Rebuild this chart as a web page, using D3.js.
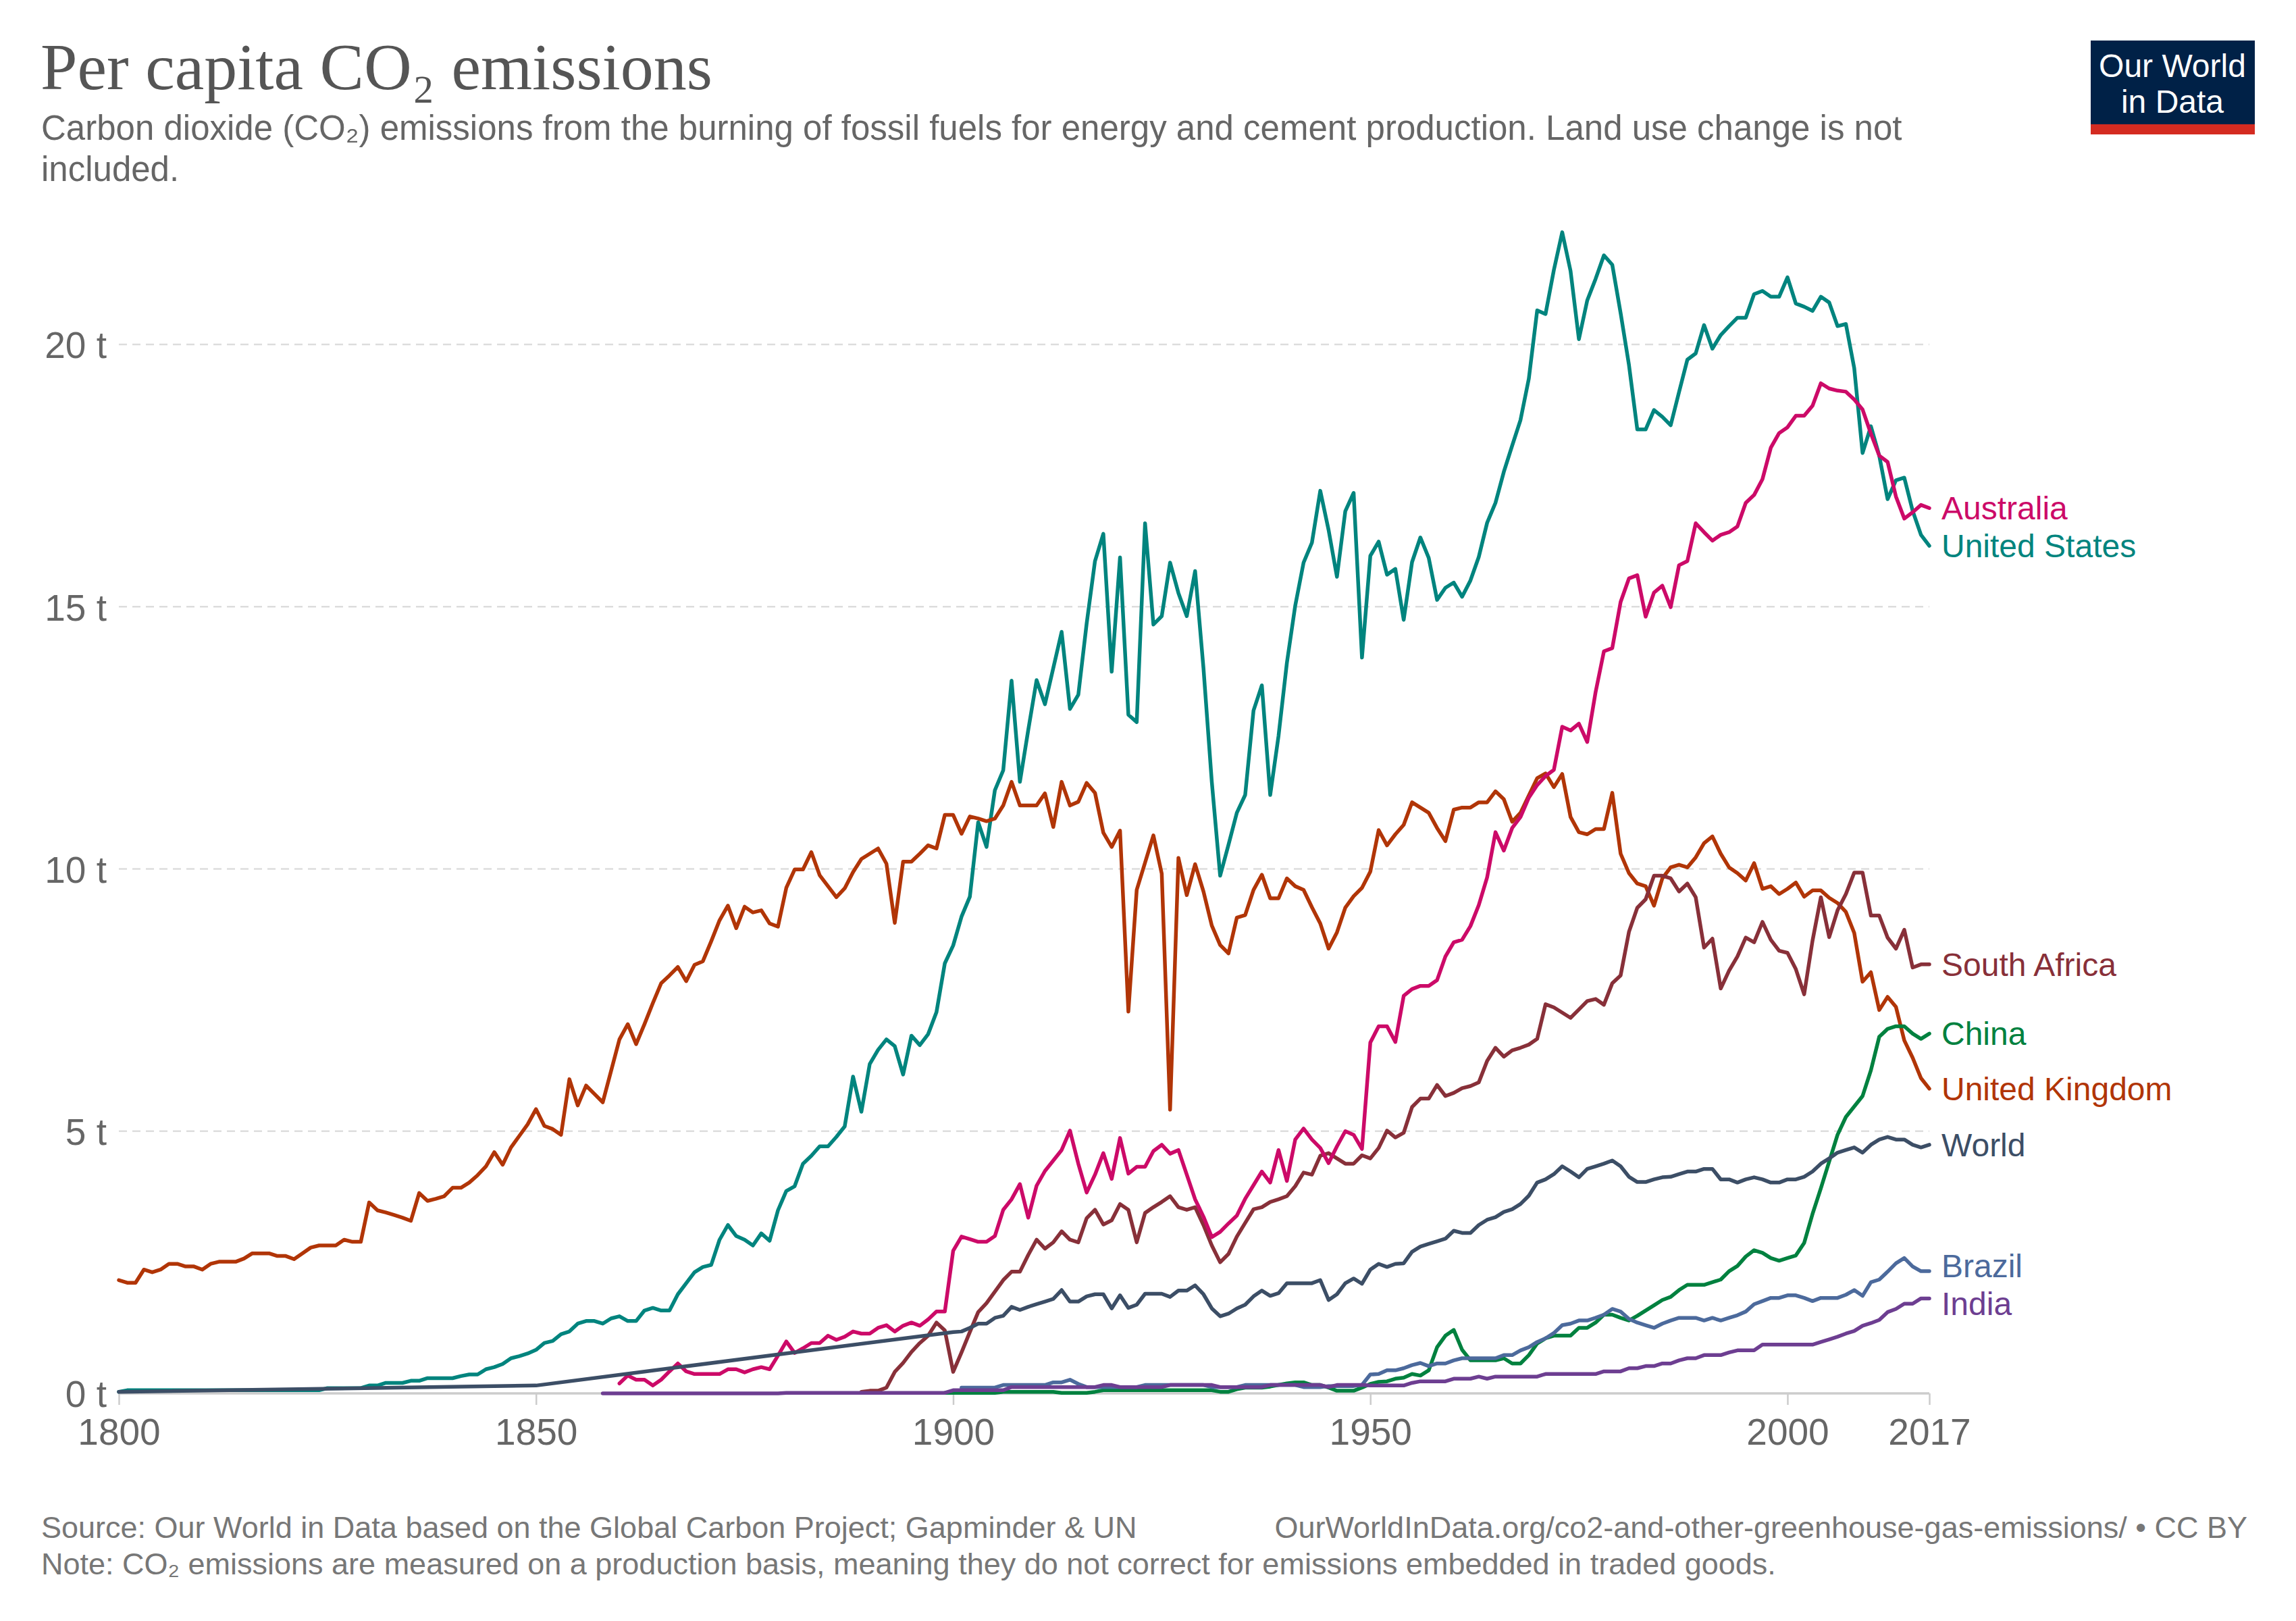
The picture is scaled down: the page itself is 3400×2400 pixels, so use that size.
<!DOCTYPE html>
<html>
<head>
<meta charset="utf-8">
<script src="https://cdn.jsdelivr.net/npm/d3@7/dist/d3.min.js"></script>
<style>
  html, body { margin: 0; padding: 0; background: #fff; }
  svg { display: block; }
</style>
</head>
<body>
<svg id="chart" width="3400" height="2400"></svg>
<script>
// ---------------- DATA ----------------
const xTickYears = [1800, 1850, 1900, 1950, 2000, 2017];
const yTickValues = [0, 5, 10, 15, 20];

const ukStart = 1800;
const ukValues = [
  2.16, 2.11, 2.11, 2.36, 2.31, 2.36, 2.47, 2.47, 2.42, 2.42,
  2.36, 2.47, 2.51, 2.51, 2.51, 2.57, 2.67, 2.67, 2.67, 2.62,
  2.62, 2.56, 2.67, 2.78, 2.82, 2.82, 2.82, 2.93, 2.89, 2.89,
  3.64, 3.49, 3.45, 3.40, 3.35, 3.29, 3.82, 3.67, 3.71, 3.76,
  3.92, 3.92, 4.02, 4.16, 4.33, 4.60, 4.36, 4.69, 4.91, 5.13,
  5.42, 5.10, 5.04, 4.93, 5.99, 5.49, 5.87, 5.71, 5.55, 6.15,
  6.75, 7.04, 6.66, 7.04, 7.44, 7.82, 7.97, 8.13, 7.86, 8.17,
  8.24, 8.62, 9.02, 9.30, 8.87, 9.28, 9.17, 9.21, 8.96, 8.90,
  9.64, 9.99, 9.99, 10.32, 9.88, 9.67, 9.46, 9.63, 9.94, 10.19,
  10.29, 10.39, 10.10, 8.97, 10.14, 10.14, 10.29, 10.45, 10.39, 11.03,
  11.03, 10.67, 11.00, 10.96, 10.91, 10.96, 11.21, 11.66, 11.21, 11.21,
  11.21, 11.44, 10.80, 11.66, 11.21, 11.28, 11.64, 11.45, 10.69, 10.42,
  10.73, 7.28, 9.60, 10.12, 10.64, 9.91, 5.41, 10.21, 9.50, 10.09,
  9.57, 8.92, 8.55, 8.39, 9.07, 9.12, 9.60, 9.89, 9.44, 9.44,
  9.82, 9.67, 9.60, 9.27, 8.96, 8.48, 8.79, 9.26, 9.48, 9.64,
  9.95, 10.74, 10.45, 10.66, 10.84, 11.27, 11.17, 11.07, 10.78, 10.53,
  11.13, 11.17, 11.17, 11.27, 11.27, 11.48, 11.33, 10.90, 11.07, 11.40,
  11.73, 11.82, 11.56, 11.81, 10.99, 10.70, 10.66, 10.76, 10.76, 11.45,
  10.29, 9.92, 9.72, 9.67, 9.30, 9.82, 10.03, 10.08, 10.03, 10.22,
  10.49, 10.62, 10.29, 10.03, 9.92, 9.78, 10.11, 9.62, 9.67, 9.52,
  9.62, 9.74, 9.47, 9.59, 9.59, 9.45, 9.35, 9.18, 8.78, 7.85,
  8.03, 7.31, 7.56, 7.37, 6.73, 6.40, 6.01, 5.81
];

const usStart = 1800;
const usValues = [
  0.03, 0.06, 0.06, 0.06, 0.06, 0.06, 0.06, 0.06, 0.06, 0.06,
  0.06, 0.06, 0.06, 0.06, 0.06, 0.06, 0.06, 0.06, 0.06, 0.06,
  0.06, 0.06, 0.06, 0.06, 0.06, 0.10, 0.10, 0.10, 0.10, 0.10,
  0.15, 0.15, 0.20, 0.20, 0.20, 0.24, 0.24, 0.29, 0.29, 0.29,
  0.29, 0.33, 0.36, 0.36, 0.46, 0.50, 0.56, 0.67, 0.71, 0.76,
  0.83, 0.96, 1.00, 1.13, 1.18, 1.33, 1.38, 1.38, 1.33, 1.43,
  1.47, 1.38, 1.38, 1.58, 1.63, 1.58, 1.58, 1.89, 2.10, 2.31,
  2.41, 2.45, 2.93, 3.21, 3.00, 2.93, 2.82, 3.05, 2.91, 3.49,
  3.86, 3.95, 4.38, 4.53, 4.71, 4.71, 4.89, 5.09, 6.04, 5.37,
  6.28, 6.55, 6.75, 6.62, 6.08, 6.82, 6.64, 6.85, 7.27, 8.20,
  8.54, 9.09, 9.47, 10.89, 10.42, 11.50, 11.88, 13.59, 11.66, 12.65,
  13.60, 13.14, 13.83, 14.52, 13.05, 13.32, 14.68, 15.87, 16.39, 13.76,
  15.94, 12.94, 12.80, 16.59, 14.66, 14.82, 15.84, 15.26, 14.82, 15.68,
  13.83, 11.66, 9.87, 10.46, 11.07, 11.41, 13.02, 13.50, 11.41, 12.54,
  13.93, 15.02, 15.84, 16.22, 17.21, 16.46, 15.57, 16.82, 17.17, 14.03,
  15.97, 16.24, 15.61, 15.72, 14.75, 15.85, 16.32, 15.93, 15.13, 15.36,
  15.46, 15.19, 15.50, 15.95, 16.60, 16.98, 17.57, 18.07, 18.56, 19.35,
  20.65, 20.58, 21.42, 22.14, 21.40, 20.10, 20.84, 21.25, 21.70, 21.52,
  20.60, 19.61, 18.38, 18.38, 18.75, 18.62, 18.46, 19.09, 19.71, 19.83,
  20.37, 19.92, 20.18, 20.35, 20.51, 20.51, 20.96, 21.02, 20.91, 20.91,
  21.28, 20.78, 20.72, 20.64, 20.91, 20.80, 20.35, 20.39, 19.55, 17.93,
  18.44, 17.88, 17.05, 17.41, 17.46, 16.83, 16.37, 16.16
];

const australiaStart = 1860;
const australiaValues = [
  0.19, 0.34, 0.26, 0.26, 0.15, 0.26, 0.42, 0.57, 0.42, 0.37,
  0.37, 0.37, 0.37, 0.46, 0.46, 0.40, 0.46, 0.50, 0.46, 0.72,
  0.99, 0.77, 0.86, 0.96, 0.96, 1.10, 1.02, 1.08, 1.18, 1.14,
  1.14, 1.25, 1.30, 1.18, 1.29, 1.35, 1.29, 1.41, 1.56, 1.56,
  2.72, 2.99, 2.94, 2.89, 2.89, 3.00, 3.50, 3.70, 3.99, 3.35,
  3.96, 4.24, 4.44, 4.64, 5.01, 4.38, 3.83, 4.17, 4.58, 4.09,
  4.87, 4.19, 4.32, 4.32, 4.62, 4.74, 4.57, 4.64, 4.17, 3.70,
  3.37, 2.98, 3.08, 3.24, 3.39, 3.71, 3.97, 4.23, 4.02, 4.64,
  4.05, 4.84, 5.05, 4.84, 4.68, 4.39, 4.71, 5.00, 4.93, 4.66,
  6.69, 7.00, 7.00, 6.70, 7.58, 7.71, 7.77, 7.77, 7.88, 8.33,
  8.60, 8.65, 8.91, 9.31, 9.84, 10.70, 10.35, 10.78, 10.99, 11.36,
  11.60, 11.77, 11.89, 12.71, 12.64, 12.77, 12.42, 13.37, 14.15, 14.21,
  15.09, 15.54, 15.60, 14.81, 15.27, 15.40, 14.99, 15.79, 15.87, 16.59,
  16.42, 16.26, 16.37, 16.42, 16.53, 16.98, 17.13, 17.43, 18.03, 18.31,
  18.42, 18.64, 18.64, 18.83, 19.26, 19.16, 19.12, 19.10, 18.95, 18.76,
  18.30, 17.88, 17.76, 17.10, 16.68, 16.80, 16.94, 16.88
];

const southAfricaStart = 1889;
const southAfricaValues = [
  0.03,
  0.05, 0.05, 0.11, 0.41, 0.58, 0.79, 0.96, 1.10, 1.35, 1.20,
  0.41, 0.78, 1.17, 1.55, 1.72, 1.94, 2.16, 2.32, 2.32, 2.64,
  2.93, 2.76, 2.88, 3.09, 2.93, 2.88, 3.34, 3.50, 3.22, 3.30,
  3.61, 3.50, 2.88, 3.44, 3.55, 3.65, 3.76, 3.55, 3.50, 3.55,
  3.21, 2.82, 2.50, 2.66, 2.99, 3.25, 3.51, 3.55, 3.65, 3.70,
  3.76, 3.95, 4.21, 4.17, 4.53, 4.58, 4.48, 4.38, 4.38, 4.54,
  4.48, 4.68, 5.01, 4.88, 4.97, 5.46, 5.62, 5.62, 5.88, 5.67,
  5.73, 5.82, 5.86, 5.93, 6.34, 6.59, 6.42, 6.54, 6.59, 6.65,
  6.76, 7.42, 7.36, 7.26, 7.16, 7.32, 7.48, 7.52, 7.41, 7.82,
  7.97, 8.80, 9.26, 9.42, 9.87, 9.87, 9.82, 9.57, 9.72, 9.46,
  8.50, 8.67, 7.72, 8.06, 8.33, 8.69, 8.60, 8.99, 8.65, 8.44,
  8.40, 8.09, 7.61, 8.63, 9.46, 8.70, 9.21, 9.52, 9.93, 9.93,
  9.11, 9.11, 8.69, 8.48, 8.84, 8.12, 8.18, 8.18
];

const chinaStart = 1899;
const chinaValues = [
  0.01,
  0.01, 0.01, 0.01, 0.01, 0.01, 0.01, 0.03, 0.03, 0.03, 0.03,
  0.03, 0.03, 0.03, 0.01, 0.01, 0.01, 0.01, 0.03, 0.06, 0.06,
  0.06, 0.06, 0.06, 0.06, 0.06, 0.06, 0.06, 0.06, 0.06, 0.06,
  0.06, 0.06, 0.03, 0.03, 0.08, 0.11, 0.11, 0.11, 0.13, 0.16,
  0.19, 0.21, 0.21, 0.16, 0.16, 0.11, 0.05, 0.05, 0.05, 0.11,
  0.18, 0.22, 0.23, 0.28, 0.30, 0.37, 0.34, 0.44, 0.88, 1.10,
  1.21, 0.83, 0.63, 0.63, 0.63, 0.63, 0.67, 0.57, 0.57, 0.73,
  0.95, 1.05, 1.10, 1.10, 1.10, 1.25, 1.25, 1.35, 1.50, 1.50,
  1.44, 1.39, 1.48, 1.58, 1.68, 1.78, 1.84, 1.97, 2.07, 2.07,
  2.07, 2.12, 2.17, 2.33, 2.43, 2.61, 2.73, 2.68, 2.58, 2.53,
  2.58, 2.63, 2.87, 3.42, 3.91, 4.42, 4.93, 5.27, 5.47, 5.67,
  6.16, 6.80, 6.95, 7.00, 7.00, 6.86, 6.76, 6.86
];

const brazilStart = 1901;
const brazilValues = [
  0.11, 0.11, 0.11, 0.11, 0.11, 0.16, 0.16, 0.16, 0.16,
  0.16, 0.16, 0.21, 0.21, 0.26, 0.18, 0.12, 0.12, 0.12, 0.12,
  0.12, 0.12, 0.12, 0.16, 0.16, 0.16, 0.16, 0.16, 0.16, 0.16,
  0.16, 0.12, 0.12, 0.12, 0.12, 0.16, 0.16, 0.16, 0.16, 0.16,
  0.16, 0.16, 0.12, 0.12, 0.12, 0.14, 0.14, 0.14, 0.14, 0.16,
  0.36, 0.37, 0.44, 0.44, 0.48, 0.54, 0.58, 0.52, 0.57, 0.57,
  0.63, 0.67, 0.67, 0.67, 0.67, 0.67, 0.73, 0.73, 0.82, 0.88,
  0.98, 1.05, 1.15, 1.30, 1.33, 1.39, 1.39, 1.44, 1.50, 1.61,
  1.56, 1.42, 1.35, 1.30, 1.25, 1.33, 1.39, 1.44, 1.44, 1.44,
  1.39, 1.44, 1.39, 1.44, 1.49, 1.56, 1.70, 1.76, 1.82, 1.82,
  1.87, 1.87, 1.82, 1.76, 1.82, 1.82, 1.82, 1.88, 1.97, 1.86,
  2.12, 2.17, 2.32, 2.48, 2.58, 2.42, 2.33, 2.33
];

const indiaStart = 1858;
const indiaValues = [
  0.00, 0.00,
  0.00, 0.00, 0.00, 0.00, 0.00, 0.00, 0.00, 0.00, 0.00, 0.00,
  0.00, 0.00, 0.00, 0.00, 0.00, 0.00, 0.00, 0.00, 0.00, 0.00,
  0.01, 0.01, 0.01, 0.01, 0.01, 0.01, 0.01, 0.01, 0.01, 0.01,
  0.01, 0.01, 0.01, 0.01, 0.01, 0.01, 0.01, 0.01, 0.01, 0.01,
  0.06, 0.06, 0.06, 0.06, 0.06, 0.06, 0.06, 0.12, 0.12, 0.12,
  0.12, 0.12, 0.12, 0.12, 0.12, 0.12, 0.12, 0.12, 0.16, 0.16,
  0.12, 0.12, 0.12, 0.12, 0.12, 0.12, 0.16, 0.16, 0.16, 0.16,
  0.16, 0.16, 0.12, 0.12, 0.12, 0.12, 0.12, 0.12, 0.16, 0.16,
  0.16, 0.16, 0.16, 0.16, 0.16, 0.12, 0.16, 0.16, 0.16, 0.16,
  0.15, 0.15, 0.15, 0.15, 0.15, 0.20, 0.23, 0.23, 0.23, 0.23,
  0.28, 0.28, 0.28, 0.32, 0.28, 0.32, 0.32, 0.32, 0.32, 0.32,
  0.32, 0.37, 0.37, 0.37, 0.37, 0.37, 0.37, 0.37, 0.42, 0.42,
  0.42, 0.48, 0.48, 0.52, 0.52, 0.57, 0.57, 0.63, 0.67, 0.67,
  0.73, 0.73, 0.73, 0.78, 0.82, 0.82, 0.82, 0.93, 0.93, 0.93,
  0.93, 0.93, 0.93, 0.93, 0.98, 1.03, 1.08, 1.14, 1.19, 1.29,
  1.34, 1.40, 1.55, 1.61, 1.71, 1.71, 1.81, 1.81
];

const worldEarlyYears = [1800, 1850];
const worldEarlyValues = [0.03, 0.15];
const worldStart = 1900;
const worldValues = [
  1.17, 1.18, 1.25, 1.33, 1.33, 1.44, 1.48, 1.65, 1.59, 1.65,
  1.70, 1.75, 1.80, 1.97, 1.75, 1.75, 1.85, 1.89, 1.89, 1.62,
  1.87, 1.63, 1.69, 1.90, 1.90, 1.90, 1.84, 1.96, 1.96, 2.06,
  1.89, 1.62, 1.47, 1.52, 1.62, 1.69, 1.85, 1.96, 1.86, 1.91,
  2.10, 2.10, 2.10, 2.10, 2.16, 1.78, 1.89, 2.10, 2.19, 2.09,
  2.36, 2.47, 2.41, 2.47, 2.48, 2.70, 2.80, 2.85, 2.90, 2.95,
  3.10, 3.06, 3.06, 3.21, 3.31, 3.36, 3.46, 3.51, 3.61, 3.77,
  4.02, 4.08, 4.18, 4.33, 4.23, 4.12, 4.28, 4.33, 4.38, 4.44,
  4.33, 4.13, 4.03, 4.03, 4.08, 4.12, 4.13, 4.18, 4.23, 4.23,
  4.28, 4.28, 4.08, 4.08, 4.02, 4.08, 4.12, 4.08, 4.02, 4.02,
  4.08, 4.08, 4.13, 4.23, 4.38, 4.48, 4.59, 4.64, 4.69, 4.59,
  4.74, 4.84, 4.89, 4.84, 4.84, 4.74, 4.69, 4.74
];

const seriesNames = ["United States", "United Kingdom", "China", "Brazil", "South Africa", "Australia", "India", "World"];
const seriesColors = {
  "Australia": "#CC0A68",
  "United States": "#00847E",
  "South Africa": "#883039",
  "China": "#00813F",
  "United Kingdom": "#B13507",
  "World": "#3C4E66",
  "Brazil": "#4C6A9C",
  "India": "#6D3E91"
};

// ---------------- BUILD ----------------
function pts(start, vals) { return vals.map((v, i) => ({ year: start + i, value: v })); }
const seriesData = {
  "United States": pts(usStart, usValues),
  "United Kingdom": pts(ukStart, ukValues),
  "Australia": pts(australiaStart, australiaValues),
  "South Africa": pts(southAfricaStart, southAfricaValues),
  "China": pts(chinaStart, chinaValues),
  "Brazil": pts(brazilStart, brazilValues),
  "India": pts(indiaStart, indiaValues),
  "World": worldEarlyYears.map((y, i) => ({ year: y, value: worldEarlyValues[i] })).concat(pts(worldStart, worldValues))
};

const svg = d3.select("#chart");
svg.append("rect").attr("width", 3400).attr("height", 2400).attr("fill", "#fff");

const plot = { left: 176, right: 2857, bottom: 2063, top20: 510 };
const x = d3.scaleLinear().domain([1800, 2017]).range([plot.left, plot.right]);
const y = d3.scaleLinear().domain([0, 20]).range([plot.bottom, plot.top20]);

const sans = "'Liberation Sans', Arial, sans-serif";

// Title & subtitle
svg.append("text").attr("x", 60).attr("y", 132)
  .attr("font-family", "'Liberation Serif', 'DejaVu Serif', serif")
  .attr("font-size", 98).attr("fill", "#555")
  .text("Per capita CO₂ emissions");
const subtitleLines = [
  "Carbon dioxide (CO₂) emissions from the burning of fossil fuels for energy and cement production. Land use change is not",
  "included."
];
svg.append("g").selectAll("text").data(subtitleLines).join("text")
  .attr("x", 61).attr("y", (d, i) => 207 + i * 61)
  .attr("font-family", sans)
  .attr("font-size", 51).attr("fill", "#666")
  .text(d => d);

// Logo
const logo = svg.append("g");
logo.append("rect").attr("x", 3096).attr("y", 60).attr("width", 243).attr("height", 139).attr("fill", "#002147");
logo.append("rect").attr("x", 3096).attr("y", 184).attr("width", 243).attr("height", 15).attr("fill", "#D42B21");
logo.selectAll("text.l").data(["Our World", "in Data"]).join("text")
  .attr("x", 3217).attr("y", (d, i) => 114 + i * 53)
  .attr("text-anchor", "middle")
  .attr("font-family", sans)
  .attr("font-size", 48).attr("fill", "#fff")
  .text(d => d);

// Grid lines
const grid = svg.append("g");
grid.selectAll("line").data(yTickValues.filter(v => v > 0)).join("line")
  .attr("x1", plot.left).attr("x2", plot.right)
  .attr("y1", d => y(d)).attr("y2", d => y(d))
  .attr("stroke", "#ddd").attr("stroke-width", 2.5).attr("stroke-dasharray", "12,8");

// Y axis labels
const yAxis = d3.axisLeft(y).tickValues(yTickValues).tickFormat(d => d + " t").tickSize(0).tickPadding(0);
const yg = svg.append("g").attr("transform", `translate(${158},0)`).call(yAxis);
yg.select(".domain").remove();
yg.selectAll("text").attr("font-family", sans)
  .attr("font-size", 55).attr("fill", "#666").attr("dy", "0.36em");

// X axis
const xAxis = d3.axisBottom(x).tickValues(xTickYears).tickFormat(d3.format("d")).tickSize(17).tickPadding(20);
const xg = svg.append("g").attr("transform", `translate(0,${plot.bottom})`).call(xAxis);
xg.select(".domain").attr("stroke", "#ccc").attr("stroke-width", 3.5).attr("d", `M${plot.left},0H${plot.right}`);
xg.selectAll(".tick line").attr("stroke", "#ccc").attr("stroke-width", 2.5);
xg.selectAll("text").attr("font-family", sans)
  .attr("font-size", 55).attr("fill", "#666").attr("dy", "0.71em");

// Lines
const line = d3.line().x(d => x(d.year)).y(d => y(d.value)).curve(d3.curveLinear);
const lines = svg.append("g");
seriesNames.forEach(name => {
  lines.append("path").datum(seriesData[name])
    .attr("d", line).attr("fill", "none")
    .attr("stroke", seriesColors[name]).attr("stroke-width", 5.5)
    .attr("stroke-linejoin", "round").attr("stroke-linecap", "round");
});

// End labels with simple collision avoidance
const labelOrder = ["Australia", "United States", "South Africa", "China", "United Kingdom", "World", "Brazil", "India"];
const labels = labelOrder.map(n => {
  const arr = seriesData[n];
  return { name: n, y: y(arr[arr.length - 1].value) };
}).sort((a, b) => a.y - b.y);
const gap = 56;
for (let iter = 0; iter < 50; iter++) {
  let moved = false;
  for (let i = 1; i < labels.length; i++) {
    const d = labels[i].y - labels[i - 1].y;
    if (d < gap) {
      const shift = (gap - d) / 2;
      labels[i - 1].y -= shift; labels[i].y += shift; moved = true;
    }
  }
  if (!moved) break;
}
svg.append("g").selectAll("text").data(labels).join("text")
  .attr("x", 2875).attr("y", d => d.y).attr("dy", "0.35em")
  .attr("font-family", sans)
  .attr("font-size", 48).attr("fill", d => seriesColors[d.name])
  .text(d => d.name);

// Footer
const footer = svg.append("g").attr("font-family", sans).attr("font-size", 45).attr("fill", "#777");
footer.append("text").attr("x", 61).attr("y", 2277)
  .text("Source: Our World in Data based on the Global Carbon Project; Gapminder & UN");
footer.append("text").attr("x", 3328).attr("y", 2277).attr("text-anchor", "end")
  .text("OurWorldInData.org/co2-and-other-greenhouse-gas-emissions/ • CC BY");
footer.append("text").attr("x", 61).attr("y", 2331)
  .text("Note: CO₂ emissions are measured on a production basis, meaning they do not correct for emissions embedded in traded goods.");
</script>
</body>
</html>
